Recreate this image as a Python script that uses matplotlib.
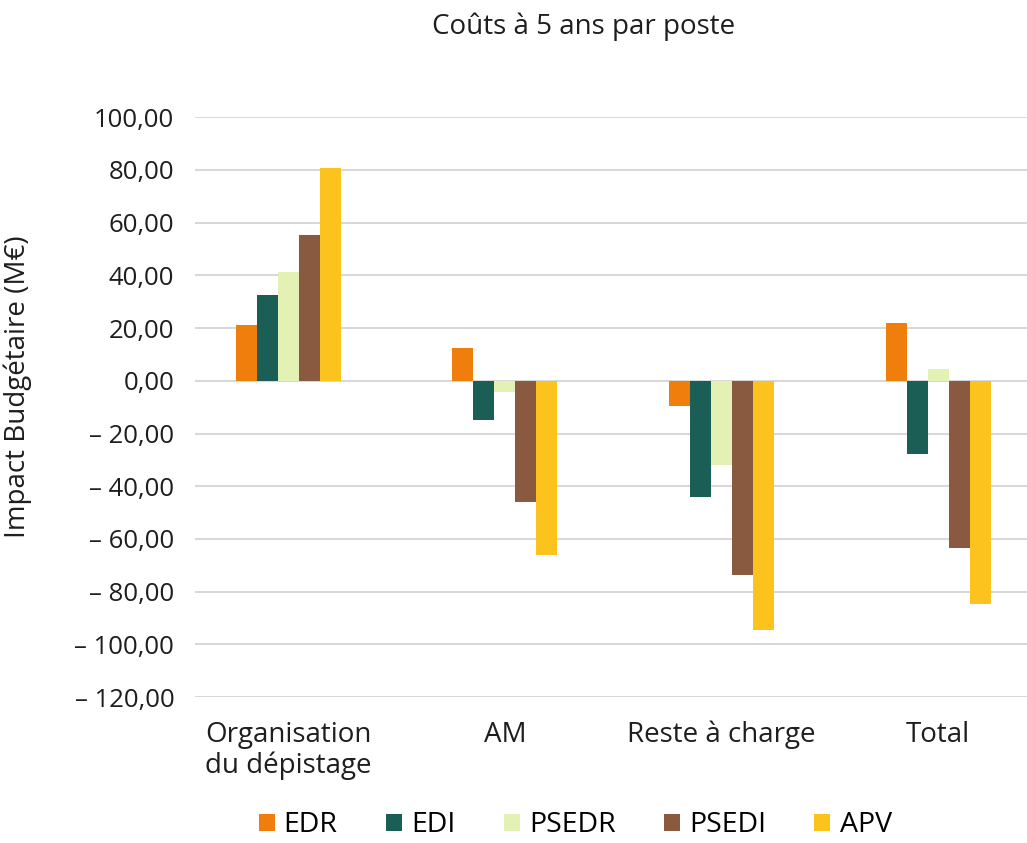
import matplotlib.pyplot as plt
import numpy as np
from matplotlib.ticker import FuncFormatter

plt.rcParams['font.family'] = ['Open Sans', 'DejaVu Sans']

categories = ["Organisation\ndu dépistage", "AM", "Reste à charge", "Total"]
series = ["EDR", "EDI", "PSEDR", "PSEDI", "APV"]
edr = [21.0, 12.3, -9.4, 22.0]
edi = [32.4, -14.7, -43.9, -27.6]
psedr = [41.3, -4.3, -32.0, 4.6]
psedi = [55.3, -46.0, -73.6, -63.6]
apv = [80.6, -66.2, -94.7, -84.5]
values = [edr, edi, psedr, psedi, apv]
colors = ["#F07E0C", "#1A5E55", "#E3F1B5", "#8A5A40", "#FCC31E"]

fig = plt.figure(figsize=(10.27, 8.43), dpi=100)
ax = fig.add_axes([0.19, 0.173, 0.81, 0.688])

x = np.arange(len(categories))
w = 0.097
for i, (name, vals) in enumerate(zip(series, values)):
    ax.bar(x + (i - 2) * w, vals, w, color=colors[i], label=name, zorder=3)

ax.set_ylim(-120, 100)
ax.set_yticks(np.arange(-120, 101, 20))
ax.set_xlim(-0.43, 3.41)
ax.set_xticks(x)
ax.set_xticklabels(categories, fontsize=20, color="#1e1e1e", linespacing=1.12)


def fmt(v, pos):
    s = f"{abs(v):.2f}".replace(".", ",")
    return ("\u2013 " + s) if v < 0 else s


ax.yaxis.set_major_formatter(FuncFormatter(fmt))
ax.tick_params(axis="y", labelsize=18.5, length=0, pad=15, labelcolor="#1e1e1e")
ax.tick_params(axis="x", length=0, pad=17)
ax.grid(axis="y", color="#d4d4d4", linewidth=1.3, zorder=0)
for s in ax.spines.values():
    s.set_visible(False)

ax.set_ylabel("Impact Budgétaire (M€)", fontsize=20, color="#1e1e1e")
ax.yaxis.set_label_coords(-0.196, 0.536)
fig.text(0.568, 0.968, "Coûts à 5 ans par poste", ha="center", va="center",
         fontsize=20, color="#1e1e1e")

fig.legend(loc="center", bbox_to_anchor=(0.56, 0.021), ncol=5, frameon=False,
           fontsize=20.5, handlelength=0.56, handleheight=0.56, columnspacing=1.7,
           handletextpad=0.32, borderpad=0)

fig.savefig("out.png", dpi=100)
